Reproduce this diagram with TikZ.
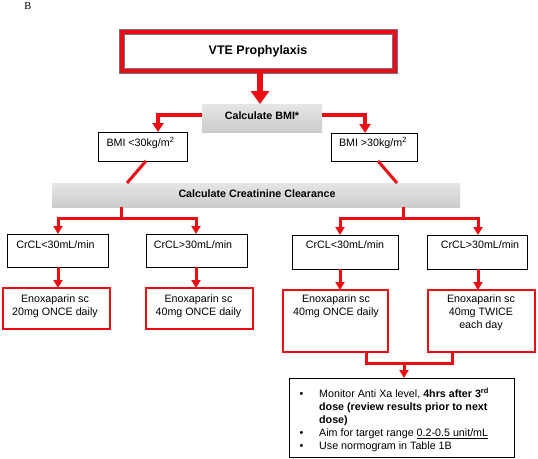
\documentclass[tikz,border=0pt]{standalone}
\usepackage{fontspec}
\usepackage{array}
\setmainfont{Liberation Sans}
\newfontfamily\timesf{Liberation Serif}
\usetikzlibrary{arrows.meta,calc}
\definecolor{myred}{RGB}{235,12,20}
\definecolor{vteline}{RGB}{120,110,140}
\begin{document}
\begin{tikzpicture}[x=1pt,y=-1pt,
  box/.style={draw=black,line width=1pt,fill=white,inner sep=0pt,outer sep=0pt},
  redbox/.style={draw=myred,line width=1.2pt,fill=white,inner sep=0pt,outer sep=0pt},
  grad/.style={draw=none,top color=gray!20,bottom color=gray!40,inner sep=0pt,outer sep=0pt},
  lab/.style={font=\fontsize{10.7}{13}\selectfont,inner sep=0pt,align=center},
  blab/.style={font=\bfseries\fontsize{10.7}{13}\selectfont,inner sep=0pt,align=center},
  conn/.style={draw=myred,line width=3pt},
  arr/.style={conn,-{Triangle[width=9pt,length=8pt]}},
  arrthick/.style={draw=myred,line width=4.5pt,-{Triangle[width=11pt,length=9pt]}},
  bigarr/.style={draw=myred,line width=5.5pt,-{Triangle[width=18pt,length=13pt]}}]
\useasboundingbox (0,0) rectangle (538,458);
\fill[white] (0,0) rectangle (538,458);

% label B
\node[font=\timesf\fontsize{10.5}{12}\selectfont,inner sep=0pt] (lblB) at (28,6.5) {B};

% VTE box
\node[draw=myred,line width=5pt,fill=white,inner sep=0pt,outer sep=0pt,
      minimum width=273pt,minimum height=39pt,
      font=\bfseries\fontsize{12.5}{15}\selectfont] (vte) at (258,51) {VTE Prophylaxis};
\draw[line width=0.6pt,vteline] ($(vte.north west)+(-2.5,-2.5)$) rectangle ($(vte.south east)+(2.5,2.5)$);
\draw[line width=0.6pt,vteline] ($(vte.north west)+(2.5,2.5)$) rectangle ($(vte.south east)+(-2.5,-2.5)$);

% Calculate BMI
\node[grad,minimum width=120pt,minimum height=28pt] (calcbmi) at (262,118) {};
\node[blab] (calcbmit) at (262,115.5) {Calculate BMI*};
\coordinate (bigx) at ($(calcbmi.north)+(-2,0)$);
\draw[bigarr] (bigx |- vte.south) -- (bigx);

% BMI boxes
\node[box,minimum width=89pt,minimum height=29pt] (bmi1) at (142.5,146.5) {};
\node[lab] (bmi1t) at (140.5,143) {BMI {<}30kg/m\textsuperscript{2}};
\node[box,minimum width=86pt,minimum height=28pt] (bmi2) at (374,147) {};
\node[lab] (bmi2t) at (373,143) {BMI {>}30kg/m\textsuperscript{2}};

\coordinate (bl) at (158,115);
\coordinate (br) at (365,115);
\draw[arrthick] (calcbmi.west |- bl) -| (bl |- bmi1.north);
\draw[arrthick] (calcbmi.east |- br) -| (br |- bmi2.north);

% Creatinine clearance
\node[grad,minimum width=408pt,minimum height=24pt] (creat) at (256,195) {};
\node[blab] (creatt) at (257,194) {Calculate Creatinine Clearance};

\coordinate (dl) at (127,0);
\coordinate (dr) at (397,0);
\draw[conn] ($(bmi1.south)+(3.5,0)$) -- (dl |- creat.north);
\draw[conn] ($(bmi2.south)+(4,0)$) -- (dr |- creat.north);

% CrCL boxes
\node[box,minimum width=101pt,minimum height=33pt] (c1) at (57.5,250.5) {};
\node[lab] (c1t) at (55.5,245) {CrCL{<}30mL/min};
\node[box,minimum width=101pt,minimum height=33pt] (c2) at (196.5,250.5) {};
\node[lab] (c2t) at (193,245) {CrCL{>}30mL/min};
\node[box,minimum width=106pt,minimum height=34pt] (c3) at (345,252) {};
\node[lab] (c3t) at (345,245) {CrCL{<}30mL/min};
\node[box,minimum width=100pt,minimum height=34pt] (c4) at (477,252) {};
\node[lab] (c4t) at (480,245) {CrCL{>}30mL/min};

% branches from creatinine
\coordinate (jl) at (121,218);
\coordinate (jr) at (403,218);
\coordinate (x1) at (58,0);
\coordinate (x2) at (196,0);
\coordinate (x3) at (340,0);
\coordinate (x4) at (478,0);
\draw[conn] (jl |- creat.south) -- (jl);
\draw[conn] (jr |- creat.south) -- (jr);
\draw[arr] (jl) -| (x1 |- c1.north);
\draw[arr] (jl) -| (x2 |- c2.north);
\draw[arr] (jr) -| (x3 |- c3.north);
\draw[arr] (jr) -| (x4 |- c4.north);

% Enoxaparin boxes
\node[redbox,minimum width=107pt,minimum height=41pt] (e1) at (56.5,308.5) {};
\node[lab] (e1t) at (55,306.5) {Enoxaparin sc\\20mg ONCE daily};
\node[redbox,minimum width=107pt,minimum height=41pt] (e2) at (199.5,308.5) {};
\node[lab] (e2t) at (198.5,306.5) {Enoxaparin sc\\40mg ONCE daily};
\node[redbox,minimum width=105pt,minimum height=62pt] (e3) at (335.5,321) {};
\node[lab] (e3t) at (336,306.5) {Enoxaparin sc\\40mg ONCE daily};
\node[redbox,minimum width=107pt,minimum height=62pt] (e4) at (481.5,321) {};
\node[lab] (e4t) at (481,313) {Enoxaparin sc\\40mg TWICE\\each day};

\draw[arr] (x1 |- c1.south) -- (x1 |- e1.north);
\draw[arr] (x2 |- c2.south) -- (x2 |- e2.north);
\draw[arr] (x3 |- c3.south) -- (x3 |- e3.north);
\draw[arr] (x4 |- c4.south) -- (x4 |- e4.north);

% Monitor box
\node[box,minimum width=225pt,minimum height=79pt] (mon) at (401.5,417.5) {};
\node[anchor=north west,inner sep=0pt,font=\fontsize{10.7}{13}\selectfont] (mont) at (299.5,388) {%
\begin{tabular}{@{}p{19.5pt}@{}>{\raggedright\arraybackslash}p{190pt}@{}}
\textbullet & Monitor Anti Xa level, \textbf{4hrs after 3\textsuperscript{rd}}\newline\textbf{dose (review results prior to next}\newline\textbf{dose)}\\
\textbullet & Aim for target range \underline{0.2-0.5 unit/mL}\\
\textbullet & Use normogram in Table 1B
\end{tabular}};

\coordinate (ja) at (366,363);
\coordinate (jb) at (452,363);
\coordinate (jm) at (404,363);
\draw[conn] (ja |- e3.south) -- (ja) -- (jb) -- (jb |- e4.south);
\draw[arr] (jm) -- (jm |- mon.north);
\end{tikzpicture}
\end{document}
